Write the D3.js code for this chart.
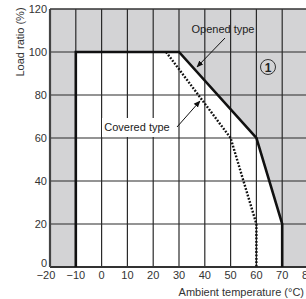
<!DOCTYPE html>
<html><head><meta charset="utf-8">
<script src="https://cdn.jsdelivr.net/npm/d3@7"></script>
<style>body{margin:0;background:#fff;}svg{display:block;font-family:"Liberation Sans",Arial,sans-serif;}</style>
</head><body>
<script>
const xTicks = [-20,-10,0,10,20,30,40,50,60,70,80];
const yTicks = [0,20,40,60,80,100,120];
const openedTemp = [-10,-10,30,60,70,70];
const openedLoad = [0,100,100,60,20,0];
const coveredTemp = [25,50,60,60];
const coveredLoad = [100,60,20,0];

const W=306,H=299;
const svg=d3.select("body").append("svg").attr("width",W).attr("height",H);
const x=d3.scaleLinear().domain([-20,80]).range([50,308]);
const y=d3.scaleLinear().domain([0,120]).range([267,9]);

svg.append("rect").attr("x",x(-20)).attr("y",y(120)).attr("width",x(80)-x(-20)).attr("height",y(0)-y(120)).attr("fill","#d3d3d5");
const opened=openedTemp.map((t,i)=>[t,openedLoad[i]]);
svg.append("path").attr("d",d3.line().x(d=>x(d[0])).y(d=>y(d[1]))(opened)+"Z").attr("fill","#fff");

svg.append("g").selectAll("line").data(yTicks.filter(v=>v>0&&v<120)).join("line")
 .attr("x1",x(-20)).attr("x2",x(80)).attr("y1",d=>y(d)).attr("y2",d=>y(d)).attr("stroke","#2a2a2a").attr("stroke-width",1.2);
svg.append("g").selectAll("line").data(xTicks.filter(v=>v>-20)).join("line")
 .attr("y1",y(0)).attr("y2",y(120)).attr("x1",d=>x(d)).attr("x2",d=>x(d)).attr("stroke","#2a2a2a").attr("stroke-width",1.2);

svg.append("line").attr("x1",x(-20)).attr("x2",x(80)).attr("y1",y(120)).attr("y2",y(120)).attr("stroke","#333").attr("stroke-width",1.5);
svg.append("line").attr("x1",x(-20)).attr("x2",x(80)).attr("y1",y(0)).attr("y2",y(0)).attr("stroke","#333").attr("stroke-width",2);
svg.append("line").attr("x1",x(-20)).attr("x2",x(-20)).attr("y1",y(0)).attr("y2",y(120)).attr("stroke","#444").attr("stroke-width",2.2);

svg.append("rect").attr("x",102).attr("y",118).attr("width",70).attr("height",19).attr("fill","#fff");

svg.append("path").attr("d",d3.line().x(d=>x(d[0])).y(d=>y(d[1]))(opened)).attr("fill","none").attr("stroke","#111").attr("stroke-width",2.6).attr("stroke-linejoin","miter");
const covered=coveredTemp.map((t,i)=>[t,coveredLoad[i]]);
svg.append("path").attr("d",d3.line().x(d=>x(d[0])).y(d=>y(d[1]))(covered)).attr("fill","none").attr("stroke","#111").attr("stroke-width",2.4).attr("stroke-dasharray","1.8,1.6");

svg.append("g").selectAll("text").data(yTicks).join("text").attr("x",47).attr("y",d=>d===0?y(d):y(d)+4).attr("text-anchor","end").attr("font-size",11).attr("fill","#333").text(d=>d);
svg.append("g").selectAll("text").data(xTicks).join("text").attr("x",d=>x(d)-(d===-20?4:0)).attr("y",279).attr("text-anchor","middle").attr("font-size",11).attr("fill","#333").text(d=>d<0?"\u2212"+(-d):d);

svg.append("text").attr("transform","translate(24,42) rotate(-90)").attr("text-anchor","middle").attr("font-size",11).attr("fill","#333").text("Load ratio (%)");
svg.append("text").attr("x",304).attr("y",296).attr("text-anchor","end").attr("font-size",11).attr("fill","#333").text("Ambient temperature (°C)");

svg.append("defs").append("marker").attr("id","ah").attr("viewBox","0 0 10 10").attr("refX",9).attr("refY",5).attr("markerWidth",7).attr("markerHeight",7).attr("orient","auto")
 .append("path").attr("d","M0,1 L10,5 L0,9 Z").attr("fill","#111");
svg.append("text").attr("x",223).attr("y",33).attr("text-anchor","middle").attr("font-size",11).attr("fill","#222").text("Opened type");
svg.append("line").attr("x1",225).attr("y1",38).attr("x2",197).attr("y2",67).attr("stroke","#111").attr("stroke-width",1).attr("marker-end","url(#ah)");
svg.append("text").attr("x",137).attr("y",131).attr("text-anchor","middle").attr("font-size",11).attr("fill","#222").text("Covered type");
svg.append("line").attr("x1",177).attr("y1",127).attr("x2",200).attr("y2",101).attr("stroke","#111").attr("stroke-width",1).attr("marker-end","url(#ah)");
svg.append("circle").attr("cx",268).attr("cy",67).attr("r",7.5).attr("fill","none").attr("stroke","#333").attr("stroke-width",1);
svg.append("text").attr("x",268).attr("y",71.5).attr("text-anchor","middle").attr("font-size",12).attr("font-weight","bold").attr("fill","#222").text("1");
</script>
</body></html>
